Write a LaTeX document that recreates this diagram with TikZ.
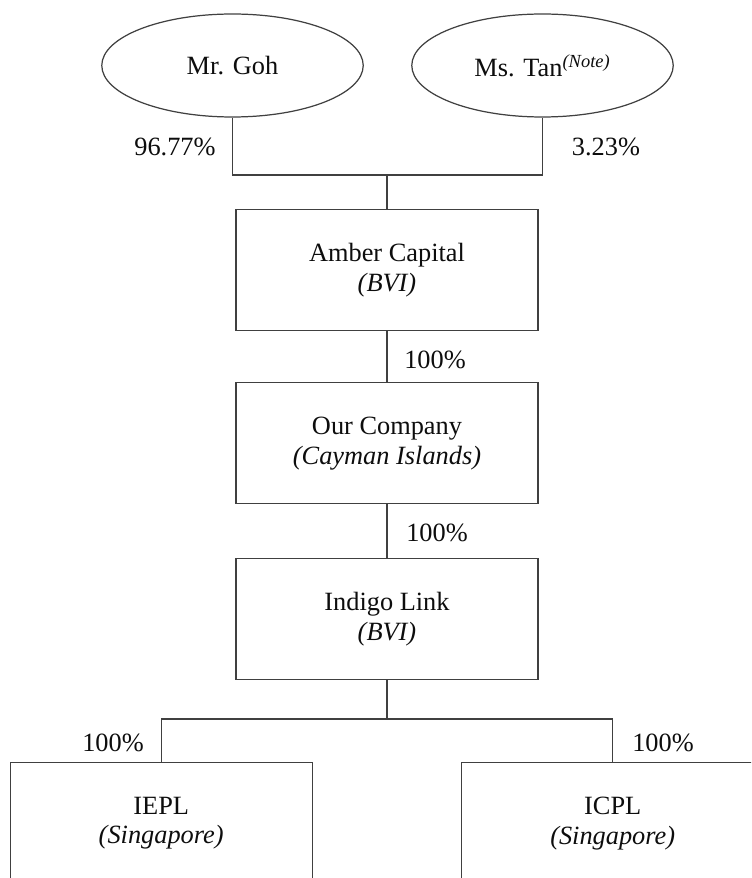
\documentclass[tikz,border=0pt]{standalone}
\usepackage{fontspec}
\setmainfont{Liberation Serif}
\usetikzlibrary{shapes.geometric}

\begin{document}
\begin{tikzpicture}[x=0.02cm,y=-0.02cm]
\tikzstyle{every node}+=[inner sep=0pt, text=black!95, font=\fontsize{15}{17}\selectfont]
\tikzstyle{link}=[draw=black!75, line width=0.7pt]
\tikzstyle{owner}=[ellipse, link, minimum width=5.23cm, minimum height=2.06cm]
\tikzstyle{company}=[rectangle, link, minimum width=6.04cm, minimum height=2.42cm, align=center]
\clip (0,0) rectangle (751,878);
% shareholders
\node[owner] (goh) at (232.5,65.5) {Mr. Goh};
\node[owner] (tan) at (542.5,65.5) {Ms. Tan\textsuperscript{\textit{(Note)}}};
% group companies
\node[company] (amber) at (387,270.3) {Amber Capital\\\textit{(BVI)}};
\node[company] (ourco) at (387,443.2) {Our Company\\\textit{(Cayman Islands)}};
\node[company] (indigo) at (387,618.8) {Indigo Link\\\textit{(BVI)}};
\node[company] (iepl) at (161.2,823.2) {IEPL\\\textit{(Singapore)}};
\node[company] (icpl) at (612.7,823.2) {ICPL\\\textit{(Singapore)}};
% junctions
\coordinate (topjoin) at (387,175);
\coordinate (botjoin) at (387,719);
% connectors
\draw[link] (goh.south) |- (topjoin) -| (tan.south);
\draw[link] (topjoin) -- (amber.north);
\draw[link] (amber.south) -- (ourco.north);
\draw[link] (ourco.south) -- (indigo.north);
\draw[link] (indigo.south) -- (botjoin);
\draw[link] (iepl.north) |- (botjoin) -| (icpl.north);
% shareholdings
\node (pgoh) at (175,147) {96.77\%};
\node (ptan) at (606,147) {3.23\%};
\node (pamber) at (435,360) {100\%};
\node (pourco) at (437,533) {100\%};
\node (piepl) at (113,743) {100\%};
\node (picpl) at (663,743) {100\%};
\end{tikzpicture}
\end{document}
